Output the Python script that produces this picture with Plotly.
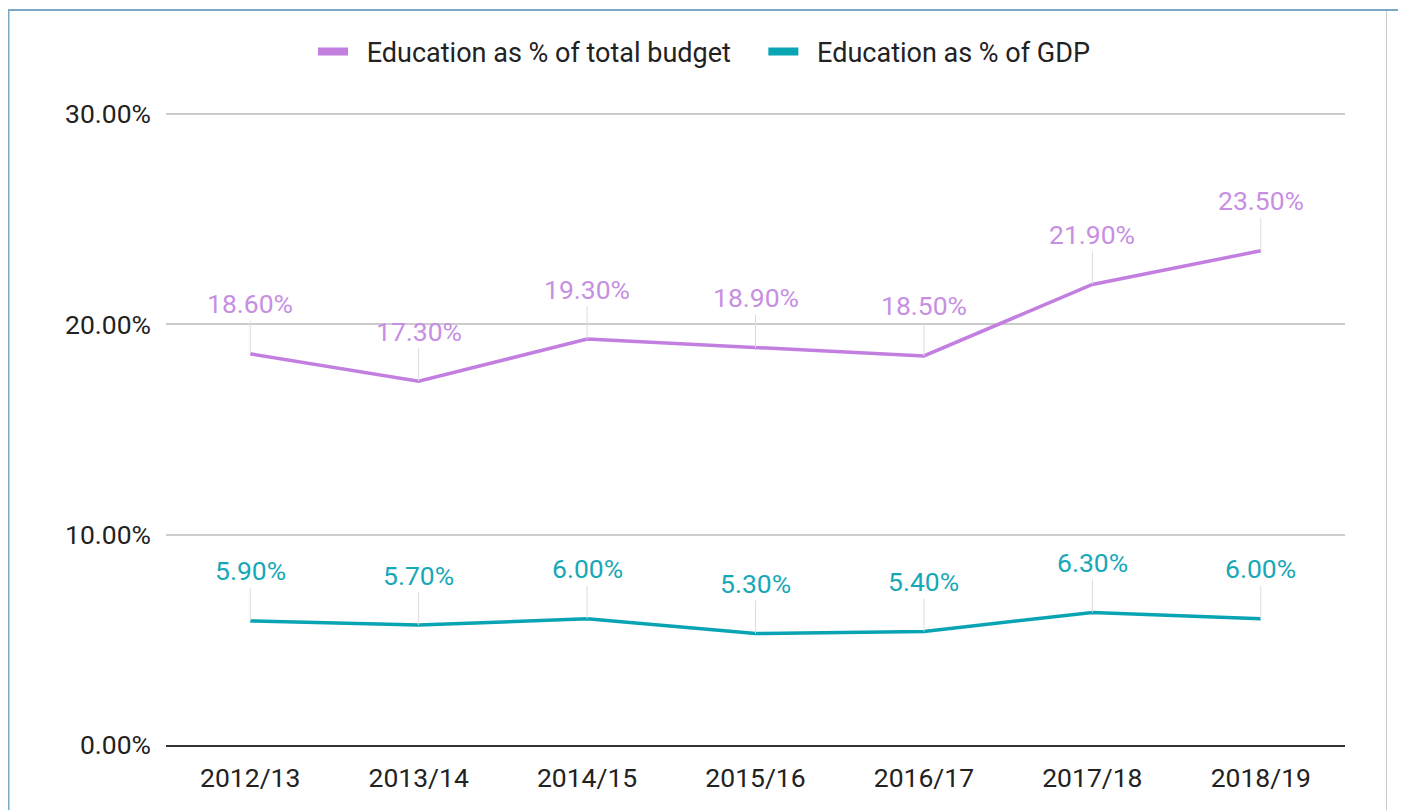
import plotly.graph_objects as go

years = ["2012/13", "2013/14", "2014/15", "2015/16", "2016/17", "2017/18", "2018/19"]
budget_pct = [18.6, 17.3, 19.3, 18.9, 18.5, 21.9, 23.5]
gdp_pct = [5.9, 5.7, 6.0, 5.3, 5.4, 6.3, 6.0]
y_ticks = [0, 10, 20, 30]
y_tick_labels = ["0.00%", "10.00%", "20.00%", "30.00%"]

PURPLE = "#c27fe0"
PURPLE_TXT = "#c78fe2"
TEAL = "#08a4b3"
TEAL_TXT = "#17a8b7"
FONT = "Roboto"

OFF = 8  # page body margin
W, H = 1406, 810
L, T = 166 - OFF, 113 - OFF
R = W - (1345 - OFF)
B = H - (745 - OFF)
pw, ph = W - L - R, H - T - B

def px_x(p):
    return (p - OFF - L) / pw

def px_y(p):
    return (H - B - (p - OFF)) / ph

fig = go.Figure()
series = [("\u2002Education as % of total budget\u2003", budget_pct, PURPLE, PURPLE_TXT),
          ("\u2002Education as % of GDP", gdp_pct, TEAL, TEAL_TXT)]
for name, vals, col, tcol in series:
    fig.add_trace(go.Scatter(x=years, y=vals, mode="lines", name=name.strip(),
                             line=dict(color=col, width=3.5), showlegend=False,
                             hoverinfo="skip"))
    fig.add_trace(go.Scatter(x=[None], y=[None], mode="lines", name=name,
                             line=dict(color=col, width=8), showlegend=True))
    for x, v in zip(years, vals):
        fig.add_annotation(x=x, y=v, xref="x", yref="y", text=f"{v:.2f}%",
                           showarrow=True, arrowhead=0, arrowwidth=1,
                           arrowcolor="#dcdcdc", ax=0, ay=-50, standoff=0,
                           font=dict(family=FONT, size=26.5, color=tcol))

FRAME = "#7aa8c6"
shapes = [
    dict(type="line", xref="paper", yref="paper", x0=px_x(8.5), x1=px_x(8.5),
         y0=px_y(9.5), y1=px_y(830), line=dict(color=FRAME, width=2)),
    dict(type="line", xref="paper", yref="paper", x0=px_x(8), x1=px_x(1403),
         y0=px_y(10), y1=px_y(10), line=dict(color=FRAME, width=2)),
    dict(type="line", xref="paper", yref="paper", x0=px_x(1403), x1=px_x(1403),
         y0=px_y(9.5), y1=px_y(830), line=dict(color=FRAME, width=2)),
    dict(type="line", xref="paper", yref="paper", x0=px_x(1386.5), x1=px_x(1386.5),
         y0=px_y(11), y1=px_y(830), line=dict(color="#c8c8c8", width=1)),
]

fig.update_layout(
    width=W, height=H,
    margin=dict(l=L, r=R, t=T, b=B),
    paper_bgcolor="white", plot_bgcolor="white",
    font=dict(family=FONT, size=26.5, color="#222222"),
    shapes=shapes,
    legend=dict(orientation="h", xref="container", x=(704 - OFF) / W, xanchor="center",
                yref="container", y=1 - (52 - OFF) / H, yanchor="middle",
                font=dict(family=FONT, size=27, color="#222222"),
                itemwidth=30, bgcolor="rgba(0,0,0,0)"),
    xaxis=dict(type="category", range=[-0.5, len(years) - 0.5], showgrid=False,
               showline=True, linecolor="#333333",
               linewidth=2, ticks="", ticklabelstandoff=8,
               tickfont=dict(family=FONT, size=26.5, color="#222222"),
               fixedrange=True),
    yaxis=dict(range=[0, 30.05], tickvals=y_ticks, ticktext=y_tick_labels,
               showgrid=True, gridcolor="#cccccc", gridwidth=1.5,
               zeroline=False, showline=False, ticks="", ticklabelstandoff=14,
               tickfont=dict(family=FONT, size=26.5, color="#222222"),
               fixedrange=True),
    hovermode=False,
)

fig.write_html("out.html")
